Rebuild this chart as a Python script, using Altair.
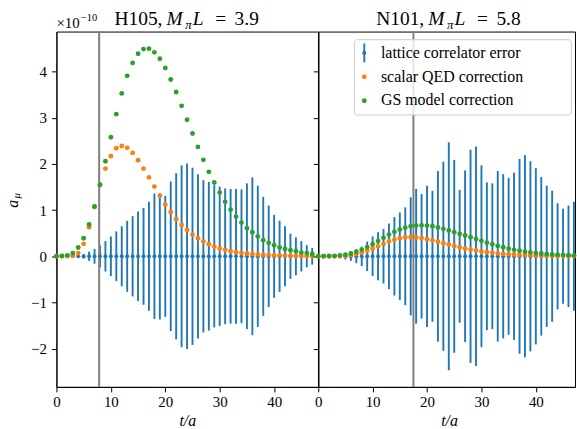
import altair as alt
import pandas as pd

# Euclidean time t/a
t = list(range(48))

# H105 (M_pi L = 3.9), all in units of 1e-10
h105_err = [0.00, 0.005, 0.01, 0.02, 0.03, 0.05, 0.10, 0.16, 0.24, 0.33,
            0.43, 0.54, 0.65, 0.77, 0.87, 0.97, 1.05, 1.18, 1.36, 1.37,
            1.31, 1.62, 1.80, 1.97, 2.01, 1.92, 1.78, 1.65, 1.61, 1.54,
            1.51, 1.47, 1.46, 1.46, 1.45, 1.58, 1.71, 1.53, 1.29, 1.10,
            0.90, 0.77, 0.65, 0.49, 0.41, 0.33, 0.24, 0.18]
h105_sqed = [0.0, 0.0, 0.005, 0.015, 0.07, 0.27, 0.63, 1.07, 1.55, 1.90,
             2.17, 2.34, 2.39, 2.35, 2.24, 2.08, 1.90, 1.71, 1.51, 1.31,
             1.12, 0.96, 0.81, 0.68, 0.57, 0.47, 0.39, 0.32, 0.26, 0.21,
             0.17, 0.14, 0.11, 0.09, 0.07, 0.06, 0.05, 0.04, 0.03, 0.03,
             0.02, 0.02, 0.015, 0.012, 0.010, 0.008, 0.006, 0.005]
h105_gs = [0.0, 0.01, 0.02, 0.07, 0.19, 0.39, 0.69, 1.08, 1.55, 2.06,
           2.58, 3.08, 3.53, 3.91, 4.19, 4.39, 4.49, 4.50, 4.42, 4.28,
           4.08, 3.83, 3.56, 3.26, 2.96, 2.66, 2.37, 2.09, 1.83, 1.60,
           1.38, 1.18, 1.01, 0.86, 0.73, 0.61, 0.52, 0.43, 0.35, 0.29,
           0.24, 0.19, 0.16, 0.13, 0.11, 0.08, 0.07, 0.05]

# N101 (M_pi L = 5.8)
n101_err = [0.00, 0.005, 0.01, 0.02, 0.04, 0.07, 0.10, 0.15, 0.21, 0.32,
            0.43, 0.52, 0.59, 0.71, 0.85, 0.95, 1.06, 1.28, 1.46, 1.35,
            1.53, 1.42, 1.85, 2.05, 2.47, 2.09, 1.44, 1.86, 2.31, 2.38,
            1.97, 1.60, 1.58, 1.85, 1.78, 1.70, 1.81, 2.11, 2.19, 2.06,
            1.91, 1.72, 1.53, 1.42, 1.15, 1.03, 1.10, 1.18]
n101_sqed = [0.0, 0.0, 0.0, 0.002, 0.005, 0.01, 0.03, 0.05, 0.08, 0.12,
             0.17, 0.22, 0.27, 0.32, 0.36, 0.39, 0.41, 0.415, 0.41, 0.395,
             0.37, 0.345, 0.315, 0.285, 0.255, 0.225, 0.195, 0.17, 0.145, 0.125,
             0.105, 0.09, 0.075, 0.063, 0.053, 0.044, 0.037, 0.031, 0.026, 0.022,
             0.018, 0.015, 0.013, 0.011, 0.009, 0.008, 0.007, 0.006]
n101_gs = [0.0, 0.002, 0.005, 0.01, 0.02, 0.035, 0.06, 0.10, 0.145, 0.20,
           0.26, 0.33, 0.40, 0.47, 0.53, 0.58, 0.62, 0.65, 0.665, 0.67,
           0.665, 0.65, 0.625, 0.595, 0.56, 0.52, 0.485, 0.45, 0.415, 0.375,
           0.335, 0.295, 0.26, 0.225, 0.195, 0.165, 0.14, 0.12, 0.10, 0.085,
           0.07, 0.06, 0.05, 0.04, 0.035, 0.03, 0.025, 0.02]

# time marker per ensemble
h105_tmark = 7.85
n101_tmark = 17.5

x_ticks = [0, 10, 20, 30, 40]
y_ticks = [-2, -1, 0, 1, 2, 3, 4]
y_domain = [-2.83, 4.87]
legend_labels = ["lattice correlator error", "scalar QED correction", "GS model correction"]

FONT = "Liberation Serif"
BLUE, ORANGE, GREEN = "#1f77b4", "#ff7f0e", "#2ca02c"
HEIGHT = 357
TITLE_FS = 19.5
one = pd.DataFrame({"k": [0]})


def label(text, x, y, size, style="normal", align="left", angle=0):
    return alt.Chart(one).mark_text(
        text=text, font=FONT, fontSize=size, fontStyle=style, align=align,
        baseline="alphabetic", angle=angle, color="black",
    ).encode(x=alt.value(x), y=alt.value(y))


def panel(name, value, err, sqed, gs, tmark, xmax, width, first):
    df = pd.DataFrame({"t": t, "err": err, "sqed": sqed, "gs": gs})
    base = alt.Chart(df).transform_calculate(lo="-datum.err", hi="datum.err", zero="0")

    xaxis = alt.Axis(values=x_ticks, title="t/a", titleFontStyle="italic",
                     titleFont=FONT, titleFontSize=16, titleFontWeight="normal",
                     titleColor="black",
                     titleX=131.5, titleY=38.8, titleBaseline="alphabetic",
                     titleAnchor="start", titleAlign="center",
                     labelFont=FONT, labelFontSize=15, labelColor="black",
                     labelFlush=False, labelPadding=3)
    yaxis = alt.Axis(values=y_ticks, title=None, labels=first, labelPadding=5,
                     labelFont=FONT, labelFontSize=15, labelColor="black")
    xs = alt.Scale(domain=[0, xmax], nice=False, zero=False)
    ys = alt.Scale(domain=y_domain, nice=False, zero=False)

    def X(field="t:Q"):
        return alt.X(field, scale=xs, axis=xaxis)

    def Y(field):
        return alt.Y(field, scale=ys, axis=yaxis)

    bars = base.mark_rule(color=BLUE, strokeWidth=1.9).encode(x=X(), y=Y("lo:Q"), y2="hi:Q")
    vline = alt.Chart(pd.DataFrame({"t": [tmark]})).mark_rule(
        color="#808080", strokeWidth=2).encode(x=X())
    centers = base.mark_circle(color=BLUE, size=16, opacity=1).encode(x=X(), y=Y("zero:Q"))
    sq = base.mark_circle(color=ORANGE, size=24, opacity=1).encode(x=X(), y=Y("sqed:Q"))
    gsm = base.mark_circle(color=GREEN, size=24, opacity=1).encode(x=X(), y=Y("gs:Q"))

    layers = [bars, vline, centers, sq, gsm,
              label(name, 106.5, -6.8, TITLE_FS, align="right"),
              label("M", 110.5, -6.8, TITLE_FS, style="italic"),
              label("\u03c0", 129.3, -2.6, 13, style="italic"),
              label("L", 137, -6.8, TITLE_FS, style="italic"),
              label("=", 165, -6.8, TITLE_FS, align="center"),
              label(value, 179, -6.8, TITLE_FS)]

    if first:
        layers += [
            label("\u00d710", 0, -3.5, 15),
            label("\u221210", 24.5, -11, 10.5),
            label("a", -38.3, 173, 16, style="italic", align="center", angle=270),
            label("\u03bc", -36.3, 165, 11, style="italic", align="center", angle=270),
        ]
    else:
        box = alt.Chart(one).mark_rect(
            fill="white", fillOpacity=0.8, stroke="#cccccc", strokeWidth=1, cornerRadius=3
        ).encode(x=alt.value(36.3), x2=alt.value(254.3), y=alt.value(8.2), y2=alt.value(83.8))
        eb = alt.Chart(one).mark_rule(color=BLUE, strokeWidth=1.9).encode(
            x=alt.value(46.3), y=alt.value(12), y2=alt.value(31))
        ebdot = alt.Chart(one).mark_circle(color=BLUE, size=16, opacity=1).encode(
            x=alt.value(46.3), y=alt.value(21.5))
        odot = alt.Chart(one).mark_circle(color=ORANGE, size=24, opacity=1).encode(
            x=alt.value(46.3), y=alt.value(45.5))
        gdot = alt.Chart(one).mark_circle(color=GREEN, size=24, opacity=1).encode(
            x=alt.value(46.3), y=alt.value(69.5))
        layers += [box, eb, ebdot, odot, gdot,
                   label(legend_labels[0], 63, 27.0, 16),
                   label(legend_labels[1], 63, 50.6, 16),
                   label(legend_labels[2], 63, 74.2, 16)]

    return alt.layer(*layers).properties(width=width, height=HEIGHT)


left = panel("H105,", "3.9", h105_err, h105_sqed, h105_gs, h105_tmark, 48.1, 263, True)
right = panel("N101,", "5.8", n101_err, n101_sqed, n101_gs, n101_tmark, 47.2, 258, False)

chart = alt.hconcat(left, right, spacing=0, bounds="flush").properties(
    padding={"left": 4.7, "top": 6.7, "right": 0, "bottom": 0},
    background="white",
).configure(font=FONT).configure_view(
    stroke="black", strokeWidth=1
).configure_axis(
    grid=False, domainColor="black", domainWidth=1, tickColor="black", tickWidth=1,
    tickSize=5, labelFont=FONT, labelFontSize=15, labelColor="black",
    titleFont=FONT,
)

chart.save("out.html", embed_options={"renderer": "svg", "actions": False})
